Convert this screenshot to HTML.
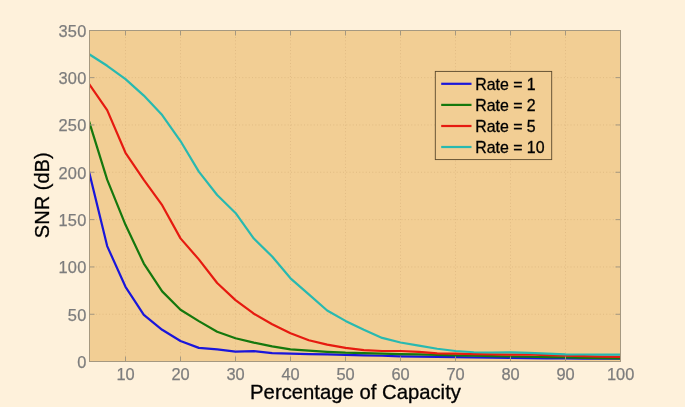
<!DOCTYPE html>
<html lang="en"><head><meta charset="utf-8"><title>SNR vs Percentage of Capacity</title>
<style>html,body{margin:0;padding:0;background:#fef1db;}body{width:685px;height:407px;overflow:hidden;}svg{display:block;will-change:transform;opacity:0.999;}text{font-family:"Liberation Sans",Arial,Helvetica,sans-serif;}</style></head><body>
<svg width="685" height="407" viewBox="0 0 685 407">
<rect x="0" y="0" width="685" height="407" fill="#fef1db"/>
<rect x="89.50" y="30.50" width="531.00" height="331.00" fill="#f2ce94"/>
<g stroke="#ddb880" stroke-width="0.8" stroke-dasharray="1,2.25"><line x1="125.50" y1="30.50" x2="125.50" y2="361.50"/><line x1="180.50" y1="30.50" x2="180.50" y2="361.50"/><line x1="235.50" y1="30.50" x2="235.50" y2="361.50"/><line x1="290.50" y1="30.50" x2="290.50" y2="361.50"/><line x1="345.50" y1="30.50" x2="345.50" y2="361.50"/><line x1="400.50" y1="30.50" x2="400.50" y2="361.50"/><line x1="455.50" y1="30.50" x2="455.50" y2="361.50"/><line x1="510.50" y1="30.50" x2="510.50" y2="361.50"/><line x1="565.50" y1="30.50" x2="565.50" y2="361.50"/><line x1="89.50" y1="314.27" x2="620.50" y2="314.27"/><line x1="89.50" y1="266.94" x2="620.50" y2="266.94"/><line x1="89.50" y1="219.61" x2="620.50" y2="219.61"/><line x1="89.50" y1="172.28" x2="620.50" y2="172.28"/><line x1="89.50" y1="124.95" x2="620.50" y2="124.95"/><line x1="89.50" y1="77.62" x2="620.50" y2="77.62"/></g>
<clipPath id="c"><rect x="89.50" y="30.50" width="531.00" height="332.00"/></clipPath>
<g clip-path="url(#c)">
<polyline points="88.83,170.86 107.17,246.11 125.50,286.82 143.83,314.93 162.17,329.79 180.50,340.96 198.83,347.87 217.17,349.29 235.50,351.66 253.83,351.19 272.17,353.08 290.50,353.55 308.83,354.03 327.17,354.31 345.50,354.97 363.83,355.35 382.17,355.73 400.50,356.30 418.83,356.58 437.17,356.87 455.50,357.15 473.83,357.34 492.17,357.53 510.50,357.81 528.83,358.19 547.17,358.38 565.50,358.48 583.83,358.57 602.17,358.67 620.50,358.76" fill="none" stroke="#1a16da" stroke-width="2.2" stroke-linejoin="round" stroke-linecap="butt"/>
<polyline points="88.83,120.69 107.17,179.66 125.50,224.82 143.83,263.53 162.17,291.36 180.50,309.73 198.83,321.09 217.17,331.69 235.50,338.22 253.83,342.67 272.17,346.45 290.50,349.29 308.83,350.71 327.17,351.85 345.50,352.70 363.83,353.08 382.17,353.55 400.50,354.03 418.83,354.41 437.17,354.97 455.50,355.35 473.83,355.73 492.17,356.11 510.50,356.49 528.83,356.77 547.17,357.06 565.50,357.43 583.83,357.81 602.17,358.10 620.50,358.38" fill="none" stroke="#15780d" stroke-width="2.2" stroke-linejoin="round" stroke-linecap="butt"/>
<polyline points="88.83,83.58 107.17,110.09 125.50,152.78 143.83,179.85 162.17,205.22 180.50,238.35 198.83,259.37 217.17,283.03 235.50,300.07 253.83,313.70 272.17,324.21 290.50,333.20 308.83,340.21 327.17,344.66 345.50,347.87 363.83,350.15 382.17,351.00 400.50,351.00 418.83,351.85 437.17,353.46 455.50,353.65 473.83,354.03 492.17,354.41 510.50,354.69 528.83,354.50 547.17,355.16 565.50,355.73 583.83,356.20 602.17,356.58 620.50,356.96" fill="none" stroke="#e61a10" stroke-width="2.2" stroke-linejoin="round" stroke-linecap="butt"/>
<polyline points="88.83,53.96 107.17,65.79 125.50,79.13 143.83,95.61 162.17,115.01 180.50,141.04 198.83,171.62 217.17,195.00 235.50,212.98 253.83,238.54 272.17,256.53 290.50,278.30 308.83,294.39 327.17,310.48 345.50,320.90 363.83,329.79 382.17,337.94 400.50,342.48 418.83,345.70 437.17,348.73 455.50,351.00 473.83,352.23 492.17,352.51 510.50,352.42 528.83,352.89 547.17,353.65 565.50,354.31 583.83,354.50 602.17,354.60 620.50,354.69" fill="none" stroke="#28b9b0" stroke-width="2.2" stroke-linejoin="round" stroke-linecap="butt"/>
</g>
<rect x="89.50" y="30.50" width="531.00" height="331.00" fill="none" stroke="#a59880" stroke-width="1"/>
<g stroke="#a59880" stroke-width="1"><line x1="125.50" y1="361.50" x2="125.50" y2="356.50"/><line x1="125.50" y1="30.50" x2="125.50" y2="35.50"/><line x1="180.50" y1="361.50" x2="180.50" y2="356.50"/><line x1="180.50" y1="30.50" x2="180.50" y2="35.50"/><line x1="235.50" y1="361.50" x2="235.50" y2="356.50"/><line x1="235.50" y1="30.50" x2="235.50" y2="35.50"/><line x1="290.50" y1="361.50" x2="290.50" y2="356.50"/><line x1="290.50" y1="30.50" x2="290.50" y2="35.50"/><line x1="345.50" y1="361.50" x2="345.50" y2="356.50"/><line x1="345.50" y1="30.50" x2="345.50" y2="35.50"/><line x1="400.50" y1="361.50" x2="400.50" y2="356.50"/><line x1="400.50" y1="30.50" x2="400.50" y2="35.50"/><line x1="455.50" y1="361.50" x2="455.50" y2="356.50"/><line x1="455.50" y1="30.50" x2="455.50" y2="35.50"/><line x1="510.50" y1="361.50" x2="510.50" y2="356.50"/><line x1="510.50" y1="30.50" x2="510.50" y2="35.50"/><line x1="565.50" y1="361.50" x2="565.50" y2="356.50"/><line x1="565.50" y1="30.50" x2="565.50" y2="35.50"/><line x1="89.50" y1="314.27" x2="94.50" y2="314.27"/><line x1="620.50" y1="314.27" x2="615.50" y2="314.27"/><line x1="89.50" y1="266.94" x2="94.50" y2="266.94"/><line x1="620.50" y1="266.94" x2="615.50" y2="266.94"/><line x1="89.50" y1="219.61" x2="94.50" y2="219.61"/><line x1="620.50" y1="219.61" x2="615.50" y2="219.61"/><line x1="89.50" y1="172.28" x2="94.50" y2="172.28"/><line x1="620.50" y1="172.28" x2="615.50" y2="172.28"/><line x1="89.50" y1="124.95" x2="94.50" y2="124.95"/><line x1="620.50" y1="124.95" x2="615.50" y2="124.95"/><line x1="89.50" y1="77.62" x2="94.50" y2="77.62"/><line x1="620.50" y1="77.62" x2="615.50" y2="77.62"/></g>
<g font-size="16.4" letter-spacing="0.25" fill="#7d7d7d" stroke="#7d7d7d" stroke-width="0.25"><text x="125.60" y="379.80" text-anchor="middle" letter-spacing="0">10</text><text x="180.60" y="379.80" text-anchor="middle" letter-spacing="0">20</text><text x="235.60" y="379.80" text-anchor="middle" letter-spacing="0">30</text><text x="290.60" y="379.80" text-anchor="middle" letter-spacing="0">40</text><text x="345.60" y="379.80" text-anchor="middle" letter-spacing="0">50</text><text x="400.60" y="379.80" text-anchor="middle" letter-spacing="0">60</text><text x="455.60" y="379.80" text-anchor="middle" letter-spacing="0">70</text><text x="510.60" y="379.80" text-anchor="middle" letter-spacing="0">80</text><text x="565.60" y="379.80" text-anchor="middle" letter-spacing="0">90</text><text x="620.60" y="379.80" text-anchor="middle" letter-spacing="0">100</text><text x="86.60" y="368.05" text-anchor="end">0</text><text x="86.60" y="320.72" text-anchor="end">50</text><text x="86.60" y="273.39" text-anchor="end">100</text><text x="86.60" y="226.06" text-anchor="end">150</text><text x="86.60" y="178.73" text-anchor="end">200</text><text x="86.60" y="131.40" text-anchor="end">250</text><text x="86.60" y="84.07" text-anchor="end">300</text><text x="86.60" y="36.74" text-anchor="end">350</text></g>
<text x="355.5" y="399.4" font-size="20.3" text-anchor="middle" fill="#000" stroke="#000" stroke-width="0.3">Percentage of Capacity</text>
<text transform="translate(49.1,195.3) rotate(-90)" font-size="20.05" text-anchor="middle" fill="#000" stroke="#000" stroke-width="0.3">SNR (dB)</text>
<rect x="435.3" y="71.4" width="116.4" height="88.2" fill="#f2ce94" stroke="#5a482c" stroke-width="0.9"/>
<line x1="441.2" y1="83.8" x2="471.5" y2="83.8" stroke="#1a16da" stroke-width="2.2"/>
<text x="475.2" y="90.2" font-size="15.9" fill="#000" stroke="#000" stroke-width="0.3">Rate = 1</text>
<line x1="441.2" y1="104.9" x2="471.5" y2="104.9" stroke="#15780d" stroke-width="2.2"/>
<text x="475.2" y="111.3" font-size="15.9" fill="#000" stroke="#000" stroke-width="0.3">Rate = 2</text>
<line x1="441.2" y1="126.0" x2="471.5" y2="126.0" stroke="#e61a10" stroke-width="2.2"/>
<text x="475.2" y="132.4" font-size="15.9" fill="#000" stroke="#000" stroke-width="0.3">Rate = 5</text>
<line x1="441.2" y1="147.0" x2="471.5" y2="147.0" stroke="#28b9b0" stroke-width="2.2"/>
<text x="475.2" y="153.4" font-size="15.9" fill="#000" stroke="#000" stroke-width="0.3">Rate = 10</text>
</svg></body></html>
